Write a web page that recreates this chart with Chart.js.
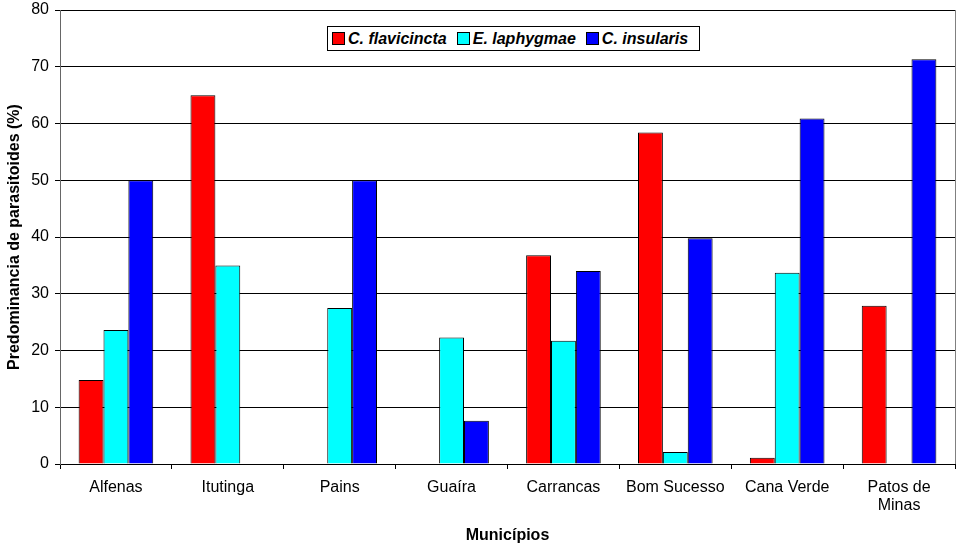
<!DOCTYPE html>
<html>
<head>
<meta charset="utf-8">
<script src="https://cdn.jsdelivr.net/npm/chart.js@4.4.0/dist/chart.umd.min.js"></script>
<style>
	body { margin: 0; background: #fff; }
	#wrap { position: relative; width: 957px; height: 545px; }
	#legend {
		position: absolute; left: 327px; top: 26px; width: 373px; height: 25px;
		border: 1px solid #000; background: #fff; box-sizing: border-box;
		font: italic bold 16px "Liberation Sans", Arial, sans-serif;
		display: flex; align-items: center; padding-left: 4px; gap: 10px;
		white-space: nowrap;
	}
	#legend span.box { display: inline-block; width: 11px; height: 11px; border: 1px solid #000; margin-right: 3px; vertical-align: -1px; }
</style>
</head>
<body>
<div id="wrap">
	<canvas id="chart" width="957" height="545"></canvas>
	<div id="legend"></div>
</div>
<script>
const categories = ['Alfenas', 'Itutinga', 'Pains', 'Guaíra', 'Carrancas', 'Bom Sucesso', 'Cana Verde', ['Patos de', 'Minas']];
const seriesNames = ['C. flavicincta', 'E. laphygmae', 'C. insularis'];
const flavicincta = [14.8, 65.0, 0, 0, 36.8, 58.4, 1.1, 27.9];
const laphygmae = [23.6, 35.0, 27.5, 22.3, 21.7, 2.1, 33.7, 0];
const insularis = [50.0, 0, 50.0, 7.6, 34.0, 39.8, 60.9, 71.3];
const colors = ['#ff0000', '#00ffff', '#0000ff'];

const font = "'Liberation Sans', Arial, sans-serif";

// html legend
const legend = document.getElementById('legend');
seriesNames.forEach(function(name, i) {
	const item = document.createElement('div');
	item.innerHTML = '<span class="box" style="background:' + colors[i] + '"></span>' + name;
	legend.appendChild(item);
});

// thin line on the right edge of the plot
const rightEdge = {
	id: 'rightEdge',
	afterDraw(chart) {
		const a = chart.chartArea;
		const c = chart.ctx;
		c.save();
		c.strokeStyle = '#808080';
		c.lineWidth = 1;
		c.beginPath();
		c.moveTo(a.right + 0.5, a.top);
		c.lineTo(a.right + 0.5, a.bottom);
		c.stroke();
		c.restore();
	}
};

const ctx = document.getElementById('chart').getContext('2d');
new Chart(ctx, {
	type: 'bar',
	data: {
		labels: categories,
		datasets: [flavicincta, laphygmae, insularis].map(function(values, i) {
			return {
				label: seriesNames[i],
				data: values,
				backgroundColor: colors[i],
				borderColor: '#000',
				borderWidth: 1,
				categoryPercentage: 0.667,
				barPercentage: 1.0
			};
		})
	},
	options: {
		responsive: false,
		animation: false,
		layout: { padding: { top: 10, right: 2, left: 0, bottom: 0 } },
		plugins: {
			legend: { display: false },
			tooltip: { enabled: false }
		},
		scales: {
			x: {
				grid: { drawOnChartArea: false, color: '#000', tickLength: 5, offset: true },
				border: { color: '#000' },
				ticks: { color: '#000', font: { family: font, size: 16, lineHeight: 1.15 }, maxRotation: 0, padding: 9 },
				title: { display: true, text: 'Municípios', color: '#000', font: { family: font, size: 16, weight: 'bold' }, padding: { top: 0, bottom: 0 } },
				afterFit: function(scale) { scale.height = 81; }
			},
			y: {
				min: 0,
				max: 80,
				ticks: { stepSize: 10, color: '#000', font: { family: font, size: 16 }, padding: 6 },
				grid: { color: '#000', tickLength: 5 },
				border: { color: '#666' },
				title: { display: true, text: 'Predominancia de parasitoides (%)', color: '#000', font: { family: font, size: 16, weight: 'bold' }, padding: { top: 5, bottom: 0 } },
				afterFit: function(scale) {
					scale.width = 60;
					scale.paddingTop = 0;
					scale.paddingBottom = 0;
				}
			}
		}
	},
	plugins: [rightEdge]
});
</script>
</body>
</html>
